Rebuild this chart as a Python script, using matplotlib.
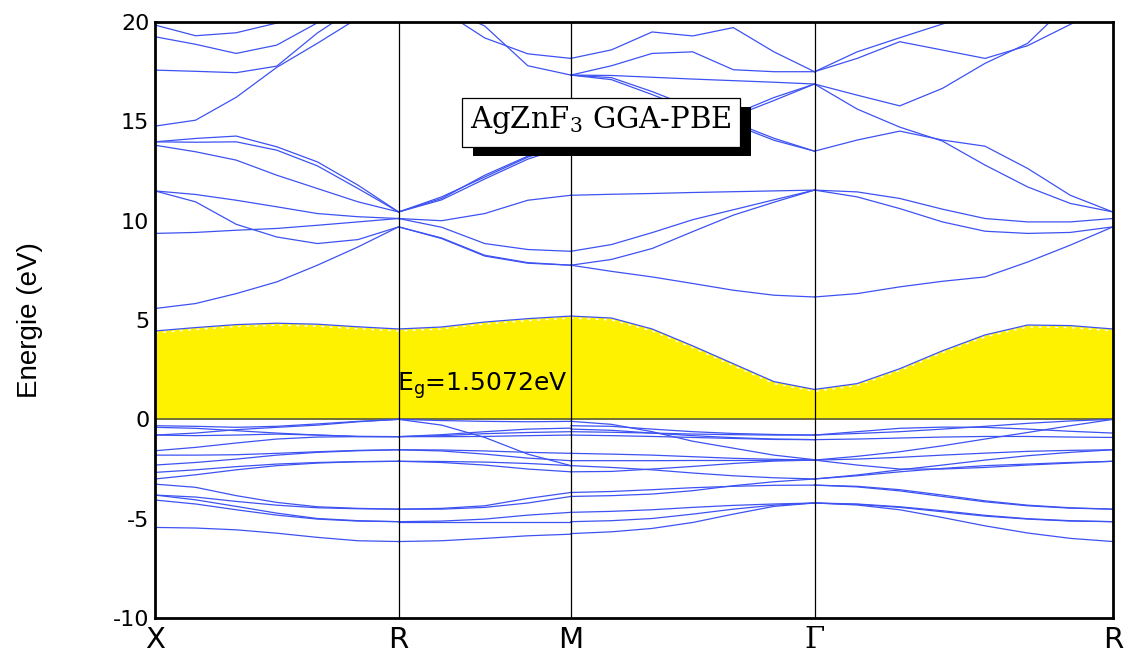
import numpy as np
import matplotlib.pyplot as plt
from matplotlib.patches import Rectangle
from matplotlib.transforms import offset_copy

plt.rcParams['axes.unicode_minus'] = False

# k-path X-R-M-G-R of the simple cubic cell (units of 2pi/a)
kpt_labels = ['X', 'R', 'M', 'Γ', 'R']
seg_len = [np.sqrt(0.5), 0.5, np.sqrt(0.5), np.sqrt(0.75)]
kpt_pos = np.concatenate([[0.0], np.cumsum(seg_len)])

eg = 1.5072  # CBM at Gamma, VBM at R (0 eV)

# lowest conduction band, one list per segment
cbm_XR = [4.45, 4.62, 4.77, 4.84, 4.79, 4.66, 4.55]
cbm_RM = [4.55, 4.65, 4.90, 5.07, 5.20]
cbm_MG = [5.20, 5.10, 4.55, 3.70, 2.80, 1.90, eg]
cbm_GR = [eg, 1.80, 2.55, 3.45, 4.25, 4.75, 4.72, 4.55]

# other bands (eV), segment X-R
bands_XR = [
    [13.97, 14.14, 14.26, 13.72, 12.96, 11.79, 10.44],
    [13.97, 13.95, 13.97, 13.55, 12.76, 11.62, 10.44],
    [13.80, 13.47, 13.05, 12.29, 11.62, 10.95, 10.44],
    [11.50, 11.32, 11.03, 10.70, 10.36, 10.20, 10.11],
    [11.50, 10.95, 9.82, 9.18, 8.85, 9.05, 9.69],
    [5.58, 5.83, 6.33, 6.92, 7.76, 8.68, 9.69],
    [9.36, 9.41, 9.52, 9.61, 9.77, 9.94, 10.11],
    [19.85, 19.31, 19.46, 19.95, 20.6, 21.2, 21.8],
    [19.26, 18.88, 18.42, 18.84, 19.96, 20.8, 21.5],
    [17.58, 17.52, 17.45, 17.78, 19.45, 20.8, 21.8],
    [14.76, 15.06, 16.21, 17.72, 18.93, 20.2, 21.0],
    [-0.32, -0.35, -0.40, -0.35, -0.23, -0.10, 0.0],
    [-0.40, -0.45, -0.57, -0.69, -0.79, -0.86, -0.87],
    [-0.79, -0.82, -0.79, -0.74, -0.79, -0.86, -0.87],
    [-0.79, -0.69, -0.52, -0.40, -0.29, -0.12, 0.0],
    [-1.58, -1.41, -1.19, -0.99, -0.89, -0.87, -0.87],
    [-1.80, -1.80, -1.78, -1.71, -1.63, -1.56, -1.53],
    [-2.30, -2.17, -2.00, -1.80, -1.66, -1.58, -1.53],
    [-2.67, -2.54, -2.38, -2.25, -2.17, -2.13, -2.11],
    [-3.00, -2.79, -2.54, -2.33, -2.20, -2.13, -2.11],
    [-3.26, -3.42, -3.84, -4.18, -4.40, -4.48, -4.52],
    [-3.81, -3.91, -4.13, -4.32, -4.45, -4.50, -4.52],
    [-3.81, -4.05, -4.38, -4.72, -4.99, -5.10, -5.15],
    [-4.06, -4.26, -4.55, -4.82, -5.02, -5.12, -5.15],
    [-5.44, -5.47, -5.56, -5.73, -5.94, -6.11, -6.15],
]

# segment R-M
bands_RM = [
    [10.44, 11.12, 12.29, 13.25, 13.85],
    [10.44, 11.20, 12.20, 13.20, 13.90],
    [10.44, 11.05, 12.10, 13.10, 13.80],
    [10.11, 10.00, 10.36, 11.03, 11.28],
    [10.11, 9.67, 8.85, 8.55, 8.46],
    [9.69, 9.13, 8.26, 7.89, 7.76],
    [9.69, 9.10, 8.22, 7.86, 7.76],
    [21.5, 20.6, 19.2, 18.4, 18.17],
    [22.0, 20.8, 19.8, 17.8, 17.33],
    [0.0, -0.06, -0.10, -0.12, -0.10],
    [0.0, -0.29, -0.91, -1.75, -2.33],
    [-0.87, -0.77, -0.62, -0.49, -0.44],
    [-0.87, -0.82, -0.72, -0.66, -0.62],
    [-0.87, -0.87, -0.86, -0.82, -0.79],
    [-1.53, -1.54, -1.59, -1.66, -1.71],
    [-1.53, -1.59, -1.75, -1.95, -2.08],
    [-2.11, -2.17, -2.30, -2.50, -2.64],
    [-2.11, -2.12, -2.15, -2.22, -2.33],
    [-4.52, -4.48, -4.35, -3.98, -3.68],
    [-4.52, -4.52, -4.43, -4.21, -3.88],
    [-5.15, -5.12, -5.02, -4.82, -4.68],
    [-5.15, -5.15, -5.15, -5.15, -5.15],
    [-6.15, -6.11, -5.99, -5.86, -5.78],
]

# segment M-G
bands_MG = [
    [7.76, 7.45, 7.17, 6.84, 6.50, 6.25, 6.16],
    [7.76, 8.05, 8.60, 9.45, 10.28, 10.93, 11.54],
    [8.46, 8.80, 9.40, 10.05, 10.55, 11.05, 11.54],
    [11.28, 11.33, 11.37, 11.42, 11.46, 11.50, 11.54],
    [13.85, 14.05, 14.35, 14.75, 15.25, 16.05, 16.88],
    [13.90, 14.10, 14.45, 14.85, 15.35, 16.20, 16.88],
    [17.33, 17.20, 16.50, 15.70, 14.95, 14.15, 13.50],
    [17.33, 17.10, 16.35, 15.55, 14.85, 14.05, 13.50],
    [17.33, 17.31, 17.22, 17.13, 17.05, 16.97, 16.88],
    [18.17, 18.60, 19.50, 19.30, 19.72, 18.50, 17.50],
    [17.33, 17.80, 18.42, 18.50, 17.60, 17.50, 17.50],
    [-0.10, -0.25, -0.62, -1.10, -1.45, -1.80, -2.03],
    [-0.32, -0.35, -0.49, -0.62, -0.71, -0.76, -0.79],
    [-0.49, -0.55, -0.69, -0.82, -0.92, -0.99, -1.02],
    [-0.62, -0.65, -0.69, -0.74, -0.77, -0.79, -0.79],
    [-0.79, -0.82, -0.86, -0.91, -0.96, -1.01, -1.02],
    [-1.71, -1.75, -1.80, -1.88, -1.96, -2.01, -2.05],
    [-2.08, -2.08, -2.08, -2.07, -2.07, -2.06, -2.05],
    [-2.33, -2.42, -2.54, -2.70, -2.84, -2.94, -3.00],
    [-2.64, -2.62, -2.50, -2.37, -2.22, -2.10, -2.05],
    [-3.68, -3.63, -3.54, -3.44, -3.37, -3.32, -3.31],
    [-3.88, -3.84, -3.76, -3.59, -3.34, -3.14, -3.00],
    [-4.68, -4.63, -4.55, -4.43, -4.33, -4.26, -4.21],
    [-5.15, -5.10, -4.99, -4.77, -4.52, -4.32, -4.21],
    [-5.75, -5.66, -5.49, -5.19, -4.77, -4.38, -4.21],
]

# segment G-R
bands_GR = [
    [6.16, 6.33, 6.67, 6.95, 7.17, 7.92, 8.77, 9.69],
    [11.54, 11.20, 10.61, 9.94, 9.47, 9.36, 9.41, 9.69],
    [11.54, 11.45, 11.12, 10.58, 10.11, 9.94, 9.94, 10.11],
    [16.88, 15.62, 14.71, 14.01, 12.80, 11.70, 10.87, 10.44],
    [13.50, 14.06, 14.51, 14.06, 13.75, 12.63, 11.28, 10.44],
    [16.88, 16.32, 15.78, 16.66, 17.92, 18.93, 21.0, 22.0],
    [17.50, 18.50, 19.21, 19.90, 20.6, 21.2, 21.8, 22.3],
    [17.50, 18.17, 19.01, 18.59, 18.17, 18.81, 19.88, 21.0],
    [-0.79, -0.71, -0.62, -0.49, -0.35, -0.20, -0.08, 0.0],
    [-0.79, -0.62, -0.45, -0.39, -0.40, -0.49, -0.60, -0.69],
    [-1.02, -0.99, -0.94, -0.89, -0.86, -0.86, -0.89, -0.91],
    [-2.05, -1.86, -1.63, -1.33, -0.99, -0.66, -0.32, 0.0],
    [-2.05, -2.00, -1.91, -1.80, -1.70, -1.61, -1.56, -1.53],
    [-2.05, -2.30, -2.50, -2.50, -2.42, -2.30, -2.20, -2.11],
    [-3.00, -2.84, -2.64, -2.47, -2.33, -2.25, -2.17, -2.11],
    [-3.00, -2.80, -2.54, -2.30, -2.05, -1.83, -1.66, -1.53],
    [-3.31, -3.37, -3.54, -3.81, -4.10, -4.32, -4.45, -4.52],
    [-3.31, -3.40, -3.60, -3.88, -4.15, -4.35, -4.47, -4.52],
    [-4.21, -4.28, -4.43, -4.65, -4.87, -5.02, -5.12, -5.15],
    [-4.21, -4.31, -4.55, -4.94, -5.36, -5.72, -5.99, -6.15],
    [-4.21, -4.26, -4.40, -4.60, -4.83, -5.00, -5.10, -5.15],
]

segments = [(cbm_XR, bands_XR), (cbm_RM, bands_RM),
            (cbm_MG, bands_MG), (cbm_GR, bands_GR)]

blue = '#3d52f2'
yellow = '#fff200'

fig = plt.figure(figsize=(11.27, 6.54), dpi=100)
ax = fig.add_axes([0.1375, 0.055, 0.8500, 0.9113])

# yellow gap region under the lowest conduction band
k_all, cbm_all = [], []
for i, (cbm, bands) in enumerate(segments):
    k = np.linspace(kpt_pos[i], kpt_pos[i + 1], len(cbm))
    k_all.extend(k if i == 0 else k[1:])
    cbm_all.extend(cbm if i == 0 else cbm[1:])
    for b in bands:
        ax.plot(k, b, color=blue, lw=0.9, zorder=3)
ax.fill_between(k_all, 0, cbm_all, color=yellow, lw=0, zorder=1)
ax.plot(k_all, cbm_all, color='white', lw=1.0, ls=(0, (2, 4)), zorder=2,
        transform=offset_copy(ax.transData, fig, y=-2, units='dots'))
ax.plot(k_all, cbm_all, color=blue, lw=0.9, zorder=3)
ax.axhline(0, color='#5a5a3c', lw=1.2, zorder=2)

for kp in kpt_pos[1:-1]:
    ax.axvline(kp, color='black', lw=0.9, zorder=4)

ax.set_xlim(kpt_pos[0], kpt_pos[-1])
ax.set_ylim(-10, 20)
ax.set_yticks(np.arange(-10, 21, 5))
ax.set_xticks(kpt_pos)
ax.set_xticklabels(kpt_labels, fontsize=21)
ax.get_xticklabels()[3].set_fontfamily('DejaVu Serif')
ax.tick_params(axis='y', length=0, pad=4, labelsize=16)
ax.tick_params(axis='x', length=0, pad=6)
for sp in ax.spines.values():
    sp.set_linewidth(2.0)
    sp.set_zorder(6)

fig.text(0.0266, 0.511, 'Energie (eV)', rotation=90, ha='center', va='center',
         fontsize=20, family='Liberation Sans')

ax.text(0.702, 1.46, 'E$_\\mathregular{g}$=' + f'{eg}eV', fontsize=18,
        ha='left', va='baseline', zorder=5)

# label box with drop shadow
ax.add_patch(Rectangle((0.3319, 0.7752), 0.2902, 0.0822, transform=ax.transAxes,
                       facecolor='black', edgecolor='none', zorder=7))
ax.add_patch(Rectangle((0.3205, 0.7903), 0.2902, 0.0822, transform=ax.transAxes,
                       facecolor='white', edgecolor='black', lw=0.9, zorder=8))
ax.text(0.4656, 0.8221, 'AgZnF$_\\mathregular{3}$ GGA-PBE', transform=ax.transAxes,
        ha='center', va='baseline', fontsize=21, family='DejaVu Serif', zorder=9)

fig.savefig('out.png', dpi=100)
